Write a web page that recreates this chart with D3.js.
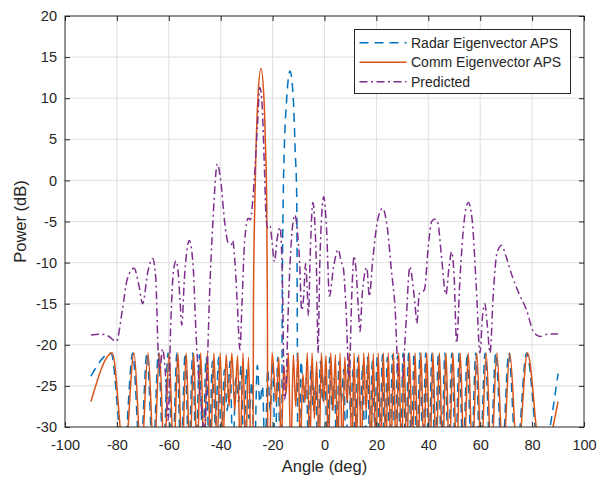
<!DOCTYPE html>
<html><head><meta charset="utf-8">
<script src="https://cdn.jsdelivr.net/npm/d3@7"></script>
<style>body{margin:0;background:#fff}svg{display:block}text{font-family:"Liberation Sans",Arial,Helvetica,sans-serif;fill:#262626}</style>
</head><body><svg id="c" width="602" height="479"></svg>
<script>
const xTicks=[-100,-80,-60,-40,-20,0,20,40,60,80,100];
const yTicks=[-30,-25,-20,-15,-10,-5,0,5,10,15,20];
const seriesNames=["Radar Eigenvector APS","Comm Eigenvector APS","Predicted"];

// [angle (deg), power (dB)]
const radarData=[[-90,-23.8],[-82.3,-21],[-77.4,-34],[-73.9,-21],[-71.0,-34],[-68.4,-21],[-66.1,-34],[-64.0,-21],[-62.1,-34],[-60.3,-21],[-58.5,-34],[-56.9,-21],[-55.3,-34],[-53.7,-21],[-52.3,-34],[-50.8,-21],[-49.5,-34],[-48.2,-21.2],[-46.9,-33],[-45.6,-21.5],[-44.4,-34],[-43.2,-22],[-42.0,-30],[-40.8,-21.5],[-39.7,-34],[-38.6,-23],[-37.5,-28],[-36.4,-22],[-35.3,-34],[-34.2,-24],[-33.1,-27],[-32.1,-22.5],[-31.1,-34],[-30.1,-23],[-29.1,-29],[-28.0,-24.5],[-27.0,-34],[-25.9,-22.5],[-24.9,-27],[-23.9,-25],[-22.9,-34],[-21.9,-23],[-20.9,-28],[-19.9,-22],[-19.0,-34],[-18.0,-21.5],[-16.5,-45],[-16.3,-16],[-15.9,-2],[-15.5,3.7],[-14.6,9.8],[-13.3,13.3],[-12.0,9.8],[-11.3,3.7],[-10.7,-2],[-10.5,-15.8],[-10.2,-45],[-9.0,-22],[-8.0,-27],[-7.0,-24],[-6.1,-34],[-5.2,-22.5],[-4.3,-28],[-3.4,-25],[-2.5,-34],[-1.6,-22],[-0.7,-27],[0.2,-23.5],[1.1,-34],[2.0,-21.5],[2.9,-28],[3.8,-24],[4.7,-34],[5.6,-22],[6.5,-27],[7.4,-23],[8.3,-34],[9.2,-21.5],[10.1,-29],[11.0,-23],[11.9,-34],[12.8,-21.5],[13.8,-28],[14.7,-22.5],[15.6,-34],[16.6,-21.5],[17.5,-34],[18.4,-22],[19.4,-30],[20.3,-21.5],[21.3,-34],[22.3,-21.2],[23.2,-34],[24.2,-21.5],[25.2,-34],[26.2,-21.2],[27.2,-34],[28.2,-21.3],[29.3,-34],[30.3,-21],[31.3,-34],[32.4,-21],[33.5,-34],[34.5,-21],[35.6,-34],[36.8,-21],[37.9,-34],[39.0,-21],[40.2,-34],[41.4,-21],[42.6,-34],[43.9,-21],[45.1,-34],[46.4,-21],[47.7,-34],[49.1,-21],[50.5,-34],[51.9,-21],[53.4,-34],[55.0,-21],[56.6,-34],[58.3,-21],[60.0,-34],[61.9,-21],[63.9,-34],[66.0,-21],[68.4,-34],[71.0,-21],[73.9,-34],[77.9,-21],[83.0,-34],[90,-23.5]];

const commData=[[-90,-26.9],[-81.8,-21],[-77.0,-34],[-73.4,-21],[-70.6,-34],[-68.0,-21],[-65.7,-34],[-63.6,-21],[-61.7,-34],[-59.9,-21],[-58.1,-34],[-56.5,-21],[-54.9,-34],[-53.3,-21],[-51.9,-34],[-50.4,-21],[-49.1,-34],[-47.7,-21],[-46.4,-34],[-45.1,-21],[-43.9,-33],[-42.6,-21],[-41.4,-33],[-40.2,-21],[-39.1,-32],[-37.9,-21.2],[-36.8,-27.5],[-35.7,-21],[-34.6,-28],[-33.5,-21.3],[-32.5,-33],[-31.4,-21],[-30.4,-34],[-29.3,-21.5],[-27.6,-45],[-27.4,-15.8],[-26.8,-2],[-26.4,3.7],[-25.7,9.8],[-24.5,13.6],[-23.3,9.8],[-22.7,3.7],[-22.3,-2],[-22.0,-15.8],[-21.8,-45],[-20.2,-21],[-18.6,-27],[-17.6,-21.5],[-16.7,-33],[-15.7,-22.5],[-14.8,-26],[-13.9,-21],[-13.0,-34],[-12.0,-21.2],[-11.1,-27.5],[-10.2,-21],[-9.3,-33],[-8.4,-23.5],[-7.5,-27],[-6.6,-21],[-5.7,-34],[-4.8,-21],[-3.9,-29],[-3.0,-22],[-2.1,-34],[-1.2,-21],[-0.3,-27],[0.6,-21.3],[1.5,-34],[2.4,-21],[3.3,-28],[4.2,-21.2],[5.1,-34],[6.0,-21],[6.9,-34],[7.8,-21.5],[8.7,-27],[9.6,-21],[10.5,-34],[11.4,-21],[12.3,-33],[13.2,-21.2],[14.2,-34],[15.1,-21],[16.0,-28],[17.0,-21],[17.9,-34],[18.8,-21.1],[19.8,-34],[20.7,-21],[21.7,-33],[22.7,-21],[23.6,-34],[24.6,-21],[25.6,-34],[26.6,-21],[27.6,-34],[28.6,-21],[29.7,-34],[30.7,-21],[31.7,-34],[32.8,-21],[33.9,-34],[34.9,-21],[36.0,-34],[37.2,-21],[38.3,-34],[39.4,-21],[40.6,-34],[41.8,-21],[43.0,-34],[44.3,-21],[45.5,-34],[46.8,-21],[48.1,-34],[49.5,-21],[50.9,-34],[52.3,-21],[53.8,-34],[55.4,-21],[57.0,-34],[58.7,-21],[60.4,-34],[62.3,-21],[64.3,-34],[66.4,-21],[68.8,-34],[71.4,-21],[74.4,-34],[78.2,-21],[83.5,-34],[90,-26.9]];

const predData=[[-90,-18.8],[-86,-18.7],[-83.5,-18.9],[-80.2,-19.6],[-78,-16],[-76,-12],[-73.4,-10.7],[-71.5,-12.8],[-70.1,-15.0],[-68,-11],[-66.2,-9.5],[-65,-12],[-64.2,-20],[-63.4,-23],[-62.4,-20.5],[-61.2,-24],[-60.3,-29.2],[-59.2,-17],[-58.2,-11],[-57.2,-9.8],[-56.3,-11.5],[-55.6,-15],[-55.0,-17.6],[-54.0,-12],[-52.1,-7.3],[-50.6,-10.5],[-49.6,-18],[-48.5,-24],[-47.3,-28],[-46.3,-31],[-45.3,-24],[-44.3,-14],[-43,-5],[-41.3,2.0],[-40,0],[-38.5,-5],[-37.1,-7.6],[-35.9,-7.8],[-35.4,-7.3],[-34.5,-10],[-33.6,-15],[-32.6,-20.6],[-31.8,-15],[-30.8,-7.5],[-29.4,-4.6],[-28.6,-4.8],[-27.8,-3.0],[-26.5,3],[-25.8,7],[-24.9,11.3],[-24,9],[-23.2,2],[-22.4,-5],[-21.7,-5.8],[-21.0,-5.5],[-20.2,-7.5],[-19.3,-9.9],[-18.2,-7],[-17.1,-5.7],[-16.6,-8],[-16.1,-14],[-15.5,-26.7],[-14.8,-25],[-14.0,-16],[-13.0,-8.5],[-11.4,-4.2],[-10.5,-6],[-9.6,-10],[-8.8,-15.8],[-8.0,-14],[-7.3,-10.1],[-6.7,-13],[-6.2,-16.5],[-5.5,-9],[-4.5,-2.7],[-3.6,-6],[-3.0,-12],[-2.5,-21],[-1.8,-10],[-0.3,-2.0],[0.8,-6],[1.9,-14.1],[3.5,-10.5],[5.3,-8.4],[6.5,-10],[7.2,-10.5],[8.2,-15],[9.5,-23.9],[10.5,-14],[11.4,-9.2],[12.3,-11.5],[13.0,-15.4],[13.7,-18.4],[14.5,-14],[16.3,-10.6],[17.3,-14.1],[18.5,-10],[20.5,-4.8],[22.4,-3.4],[24.3,-6],[25.8,-11],[27.2,-15.5],[28.5,-23.9],[30.0,-24],[31.3,-18],[32.9,-10.5],[34.0,-12.5],[35.0,-15.5],[35.6,-17.4],[36.5,-13.8],[38.5,-13.3],[40,-8],[41.3,-5],[42.6,-4.7],[43.7,-5.2],[45,-9],[46.8,-13.9],[48,-10.5],[49,-8.7],[50,-12],[50.9,-19.8],[52.2,-12],[53.8,-5],[55.4,-2.7],[56.8,-4.5],[58.5,-13],[59.9,-21],[60.9,-16.5],[61.8,-15],[62.7,-17.5],[63.8,-21],[65.0,-14],[66.5,-8.8],[68.3,-7.9],[70,-9.3],[72.5,-11.8],[75,-13.8],[77.9,-15.8],[80.5,-18.4],[83,-19.0],[86,-18.7],[90,-18.7]];

const colors=["#0072BD","#D95319","#7E2F8E"];
const dashes=["9,6",null,"8,3.5,2,3.5"];

const L=65,R=584,T=16,B=427;
const svg=d3.select("#c");
const x=d3.scaleLinear().domain([-100,100]).range([L,R]);
const y=d3.scaleLinear().domain([-30,20]).range([B,T]);
const fmt=d=>String(d);

svg.append("defs").append("clipPath").attr("id","clip").append("rect").attr("x",L).attr("y",T).attr("width",R-L).attr("height",B-T);

// grid
const g=svg.append("g");
g.selectAll(".vx").data(xTicks.slice(1,-1)).join("line").attr("x1",d=>x(d)).attr("x2",d=>x(d)).attr("y1",T).attr("y2",B).attr("stroke","#dfdfdf").attr("stroke-width",1);
g.selectAll(".hy").data(yTicks.slice(1,-1)).join("line").attr("y1",d=>y(d)).attr("y2",d=>y(d)).attr("x1",L).attr("x2",R).attr("stroke","#dfdfdf").attr("stroke-width",1);

// lines
const series=[radarData,commData,predData];
const line=d3.line().x(d=>x(d[0])).y(d=>y(d[1])).curve(d3.curveMonotoneX);
const plot=svg.append("g").attr("clip-path","url(#clip)");
series.forEach((s,i)=>{
  plot.append("path").datum(s).attr("d",line).attr("fill","none").attr("stroke",colors[i]).attr("stroke-width",1.5).attr("stroke-dasharray",dashes[i]);
});

// axes
function styleAxis(sel){sel.select(".domain").remove();sel.selectAll(".tick line").attr("stroke","#262626").attr("stroke-width",1);sel.selectAll("text").style("font-size","14.5px").attr("fill","#262626");}
svg.append("g").attr("transform",`translate(0,${B})`).call(d3.axisBottom(x).tickValues(xTicks).tickFormat(fmt).tickSize(-5).tickPadding(13)).call(styleAxis);
svg.append("g").attr("transform",`translate(0,${T})`).call(d3.axisTop(x).tickValues(xTicks).tickFormat("").tickSize(-5)).call(styleAxis);
svg.append("g").attr("transform",`translate(${L},0)`).call(d3.axisLeft(y).tickValues(yTicks).tickFormat(fmt).tickSize(-5).tickPadding(8)).call(styleAxis);
svg.append("g").attr("transform",`translate(${R},0)`).call(d3.axisRight(y).tickValues(yTicks).tickFormat("").tickSize(-5)).call(styleAxis);
svg.append("rect").attr("x",L).attr("y",T).attr("width",R-L).attr("height",B-T).attr("fill","none").attr("stroke","#262626").attr("stroke-width",1);

// labels
svg.append("text").attr("x",(L+R)/2).attr("y",472).attr("text-anchor","middle").style("font-size","16.5px").text("Angle (deg)");
svg.append("text").attr("transform",`translate(26,${(T+B)/2}) rotate(-90)`).attr("text-anchor","middle").style("font-size","16.5px").text("Power (dB)");

// legend
const lg=svg.append("g");
lg.append("rect").attr("x",354.5).attr("y",29.5).attr("width",216).attr("height",64).attr("fill","#fff").attr("stroke","#262626").attr("stroke-width",1);
const rowY=[42.7,62.3,81.7];
seriesNames.forEach((n,i)=>{
  lg.append("line").attr("x1",359.5).attr("x2",406.5).attr("y1",rowY[i]).attr("y2",rowY[i]).attr("stroke",colors[i]).attr("stroke-width",1.5).attr("stroke-dasharray",dashes[i]);
  lg.append("text").attr("x",411).attr("y",rowY[i]).attr("dy","0.35em").style("font-size","14px").text(n);
});
</script></body></html>
